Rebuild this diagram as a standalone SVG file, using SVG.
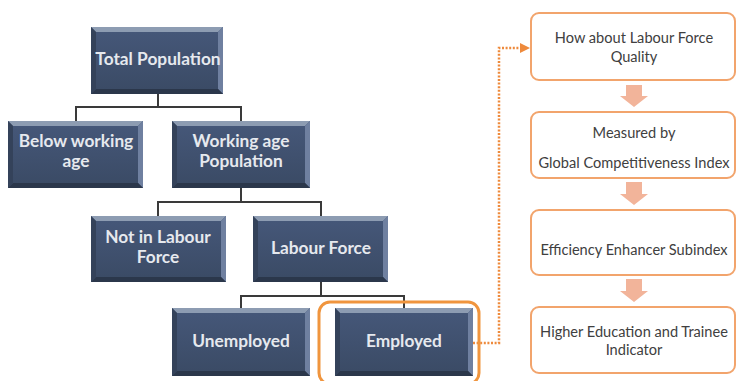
<svg xmlns="http://www.w3.org/2000/svg" width="737" height="381" viewBox="0 0 737 381">
  <defs>
    <linearGradient id="boxFill" x1="0" y1="0" x2="0" y2="1">
      <stop offset="0" stop-color="#46587a"/>
      <stop offset="1" stop-color="#3a4a64"/>
    </linearGradient>
    <marker id="dotHead" viewBox="0 0 10 10" refX="2" refY="5" markerWidth="4" markerHeight="4" orient="auto" markerUnits="strokeWidth">
      <path d="M0,0 L10,5 L0,10 z" fill="#ee8a3c"/>
    </marker>
  </defs>
  <style>
    .box { fill: url(#boxFill); }
    .bevTop { fill: #8d9cb2; }
    .bevRight { fill: #6f80a0; }
    .bevBottom { fill: #2b374b; }
    .bevLeft { fill: #34425a; }
    .lbl { font-family: Lato, "Liberation Sans", sans-serif; font-weight: bold; font-size: 17.3px; fill: #e6e9ee; text-anchor: middle; }
    .tree { fill: none; stroke: #3a3a3a; stroke-width: 2; }
    .step { fill: #ffffff; stroke: #f2a46c; stroke-width: 2; }
    .stepTxt { font-family: Lato, "Liberation Sans", sans-serif; font-size: 14.6px; fill: #404040; text-anchor: middle; }
    .down { fill: #f2b49a; }
    .dotted { fill: none; stroke: #ee8a3c; stroke-width: 2.5; stroke-dasharray: 2 1.6; }
    .focus { fill: none; stroke: #f0953e; stroke-width: 3; }
  </style>

  <rect width="737" height="381" fill="#ffffff"/>

  <!-- tree connectors -->
  <g id="connectors">
    <path class="tree" d="M158,94 V107 M76,121 V107 H241 V121"/>
    <path class="tree" d="M241,188 V202 M158,216 V202 H321 V216"/>
    <path class="tree" d="M321,282 V296 M241,308 V296 H404 V308"/>
    <path class="dotted" d="M473,343 H499 V48 H522" marker-end="url(#dotHead)"/>
  </g>

  <!-- hierarchy boxes -->
  <g id="total-population">
    <rect class="box" x="91" y="27" width="132" height="67"/>
    <polygon class="bevTop" points="91,27 223,27 218,32 96,32"/>
    <polygon class="bevRight" points="223,27 223,94 218,89 218,32"/>
    <polygon class="bevBottom" points="91,94 223,94 218,89 96,89"/>
    <polygon class="bevLeft" points="91,27 96,32 96,89 91,94"/>
    <text class="lbl" x="158" y="65">Total Population</text>
  </g>

  <g id="below-working-age">
    <rect class="box" x="8" y="121" width="135" height="67"/>
    <polygon class="bevTop" points="8,121 143,121 138,126 13,126"/>
    <polygon class="bevRight" points="143,121 143,188 138,183 138,126"/>
    <polygon class="bevBottom" points="8,188 143,188 138,183 13,183"/>
    <polygon class="bevLeft" points="8,121 13,126 13,183 8,188"/>
    <text class="lbl" x="76" y="147">Below working</text>
    <text class="lbl" x="76" y="167">age</text>
  </g>

  <g id="working-age-population">
    <rect class="box" x="172" y="121" width="138" height="67"/>
    <polygon class="bevTop" points="172,121 310,121 305,126 177,126"/>
    <polygon class="bevRight" points="310,121 310,188 305,183 305,126"/>
    <polygon class="bevBottom" points="172,188 310,188 305,183 177,183"/>
    <polygon class="bevLeft" points="172,121 177,126 177,183 172,188"/>
    <text class="lbl" x="241" y="147">Working age</text>
    <text class="lbl" x="241" y="167">Population</text>
  </g>

  <g id="not-in-labour-force">
    <rect class="box" x="91" y="216" width="135" height="66"/>
    <polygon class="bevTop" points="91,216 226,216 221,221 96,221"/>
    <polygon class="bevRight" points="226,216 226,282 221,277 221,221"/>
    <polygon class="bevBottom" points="91,282 226,282 221,277 96,277"/>
    <polygon class="bevLeft" points="91,216 96,221 96,277 91,282"/>
    <text class="lbl" x="158" y="243">Not in Labour</text>
    <text class="lbl" x="158" y="263">Force</text>
  </g>

  <g id="labour-force">
    <rect class="box" x="253" y="216" width="135" height="66"/>
    <polygon class="bevTop" points="253,216 388,216 383,221 258,221"/>
    <polygon class="bevRight" points="388,216 388,282 383,277 383,221"/>
    <polygon class="bevBottom" points="253,282 388,282 383,277 258,277"/>
    <polygon class="bevLeft" points="253,216 258,221 258,277 253,282"/>
    <text class="lbl" x="321" y="254">Labour Force</text>
  </g>

  <g id="unemployed">
    <rect class="box" x="172" y="308" width="138" height="68"/>
    <polygon class="bevTop" points="172,308 310,308 305,313 177,313"/>
    <polygon class="bevRight" points="310,308 310,376 305,371 305,313"/>
    <polygon class="bevBottom" points="172,376 310,376 305,371 177,371"/>
    <polygon class="bevLeft" points="172,308 177,313 177,371 172,376"/>
    <text class="lbl" x="241" y="347">Unemployed</text>
  </g>

  <g id="employed">
    <rect class="box" x="335" y="308" width="138" height="68"/>
    <polygon class="bevTop" points="335,308 473,308 468,313 340,313"/>
    <polygon class="bevRight" points="473,308 473,376 468,371 468,313"/>
    <polygon class="bevBottom" points="335,376 473,376 468,371 340,371"/>
    <polygon class="bevLeft" points="335,308 340,313 340,371 335,376"/>
    <text class="lbl" x="404" y="347">Employed</text>
    <rect class="focus" x="319" y="302" width="160" height="82" rx="11"/>
  </g>

  <!-- quality chain -->
  <g id="labour-force-quality">
    <rect class="step" x="531" y="13" width="204" height="67" rx="8"/>
    <text class="stepTxt" x="634" y="43">How about Labour Force</text>
    <text class="stepTxt" x="634" y="62">Quality</text>
  </g>
  <g id="arrow-1">
    <polygon class="down" points="626,85 642,85 642,96 648,96 634,107 620,96 626,96"/>
  </g>

  <g id="global-competitiveness">
    <rect class="step" x="531" y="112" width="204" height="66" rx="8"/>
    <text class="stepTxt" x="634" y="138">Measured by</text>
    <text class="stepTxt" x="634" y="168">Global Competitiveness  Index</text>
  </g>
  <g id="arrow-2">
    <polygon class="down" points="626,182 642,182 642,194 648,194 634,205 620,194 626,194"/>
  </g>

  <g id="efficiency-enhancer">
    <rect class="step" x="531" y="210" width="204" height="65" rx="8"/>
    <text class="stepTxt" x="634" y="255">Efficiency Enhancer Subindex</text>
  </g>
  <g id="arrow-3">
    <polygon class="down" points="626,279 642,279 642,291 648,291 634,302 620,291 626,291"/>
  </g>

  <g id="higher-education">
    <rect class="step" x="531" y="307" width="204" height="66" rx="8"/>
    <text class="stepTxt" x="634" y="337">Higher Education and Trainee</text>
    <text class="stepTxt" x="634" y="355">Indicator</text>
  </g>
</svg>
